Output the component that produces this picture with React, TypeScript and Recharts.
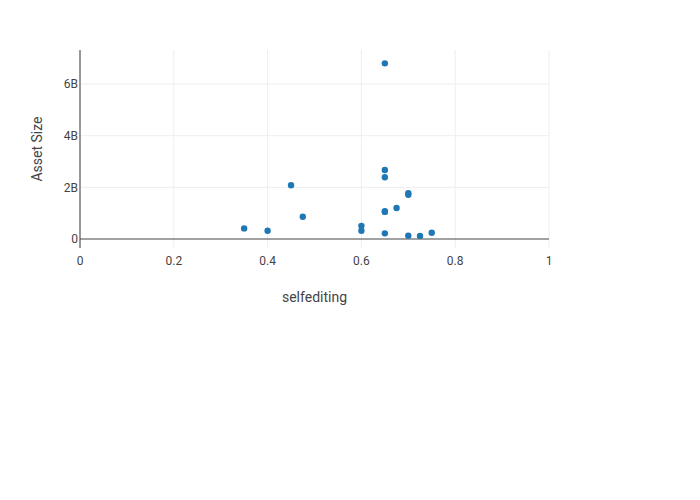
import React from 'react';
import {
  ScatterChart,
  Scatter,
  XAxis,
  YAxis,
  ZAxis,
  CartesianGrid,
  ReferenceLine,
} from 'recharts';

// selfediting score vs asset size (in dollars)
const selfediting = [
  0.35, 0.4, 0.45, 0.475, 0.6, 0.6, 0.65, 0.65, 0.65, 0.65, 0.65, 0.65, 0.675, 0.7, 0.7, 0.7, 0.725, 0.75,
];
const assetSize = [
  0.41e9, 0.32e9, 2.08e9, 0.86e9, 0.51e9, 0.32e9, 6.8e9, 2.67e9, 2.39e9, 1.08e9, 1.05e9, 0.22e9, 1.2e9, 1.77e9,
  1.71e9, 0.13e9, 0.12e9, 0.24e9,
];
const xTicks = [0, 0.2, 0.4, 0.6, 0.8, 1];
const yTicks = [0, 2e9, 4e9, 6e9];

const points = selfediting.map((x, i) => ({ x, y: assetSize[i] }));

const FONT = 'Roboto, "Open Sans", sans-serif';

function formatBillions(v: number): string {
  if (v === 0) return '0';
  return `${Math.round(v / 1e9)}B`;
}

function formatX(v: number): string {
  return `${v}`;
}

function YTitle({ viewBox }: { viewBox?: { x: number; y: number; width: number; height: number } }) {
  if (!viewBox) return null;
  const cx = 37;
  const cy = viewBox.y + viewBox.height / 2;
  return (
    <text x={cx} y={cy} transform={`rotate(-90, ${cx}, ${cy})`} textAnchor="middle" dominantBaseline="central" fontSize={14} fill="#444" fontFamily={FONT}>
      Asset Size
    </text>
  );
}

function Dot({ cx, cy }: { cx?: number; cy?: number }) {
  if (cx == null || cy == null) return null;
  return <circle cx={cx} cy={cy} r={3.2} fill="#1f77b4" />;
}

export default function App() {
  return (
    <div style={{ position: 'absolute', left: 0, top: 0, width: 700, height: 500, background: '#fff', fontFamily: FONT }}>
      <ScatterChart width={700} height={500} margin={{ top: 50, right: 151, left: 0, bottom: 222 }}>
        <CartesianGrid stroke="#eeeeee" strokeWidth={1} horizontalValues={[2e9, 4e9, 6e9]} verticalValues={[0.2, 0.4, 0.6, 0.8, 1]} />
        <XAxis
          type="number"
          dataKey="x"
          domain={[0, 1]}
          ticks={xTicks}
          tickFormatter={formatX}
          axisLine={false}
          tickLine={false}
          tickSize={6}
          height={30}
          interval={0}
          tick={{ fontSize: 12, fill: '#444', fontFamily: FONT }}
          label={{ value: 'selfediting', position: 'insideBottom', offset: -24, fontSize: 14, fill: '#444', fontFamily: FONT }}
        />
        <YAxis
          type="number"
          dataKey="y"
          domain={[-0.348e9, 7.317e9]}
          ticks={yTicks}
          tickFormatter={formatBillions}
          axisLine={false}
          tickLine={false}
          tickSize={0}
          width={80}
          interval={0}
          allowDataOverflow
          tick={{ fontSize: 12, fill: '#444', fontFamily: FONT }}
          label={<YTitle />}
        />
        <ZAxis range={[30, 30]} />
        <ReferenceLine x={0} stroke="#999" strokeWidth={2} />
        <ReferenceLine y={0} stroke="#444" strokeWidth={1} />
        <Scatter data={points} fill="#1f77b4" shape={<Dot />} isAnimationActive={false} legendType="none" />
      </ScatterChart>
    </div>
  );
}
